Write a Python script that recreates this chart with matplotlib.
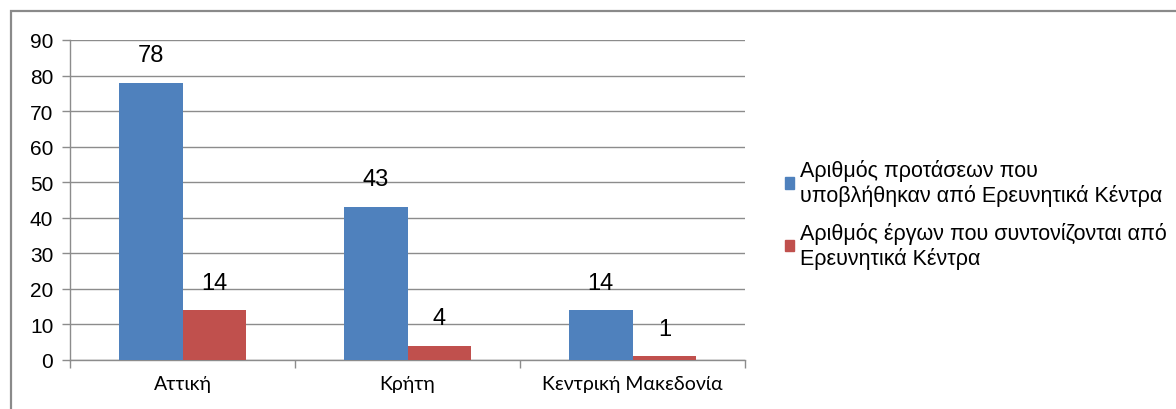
import matplotlib.pyplot as plt
import numpy as np
from matplotlib.patches import Rectangle, Patch

# data
regions = ['Αττική', 'Κρήτη', 'Κεντρική Μακεδονία']
proposals = [78, 43, 14]
projects = [14, 4, 1]
series_names = ['Αριθμός προτάσεων που\nυποβλήθηκαν από Ερευνητικά Κέντρα',
                'Αριθμός έργων που συντονίζονται από\nΕρευνητικά Κέντρα']
y_ticks = [0, 10, 20, 30, 40, 50, 60, 70, 80, 90]

blue = '#4F81BD'
red = '#C0504D'
grid_col = '#8C8C8C'

fig = plt.figure(figsize=(11.76, 4.10), dpi=100)
ax = fig.add_axes([70 / 1176, 1 - 361 / 410, 675 / 1176, 320 / 410])

# outer frame (only top and left edges visible in the picture)
fig.add_artist(Rectangle((11 / 1176, -0.1), 1.2, 1 - 12 / 410 + 0.1,
                         transform=fig.transFigure, fill=False,
                         edgecolor='#8A8A8A', linewidth=1.6))

w = 0.284
pos = np.arange(len(regions)) + 0.5
b1 = ax.bar(pos - w / 2, proposals, w, color=blue, zorder=3)
b2 = ax.bar(pos + w / 2, projects, w, color=red, zorder=3)

for bars, vals in ((b1, proposals), (b2, projects)):
    for rect, v in zip(bars, vals):
        ax.annotate(str(v), (rect.get_x() + rect.get_width() / 2, v),
                    xytext=(0, 12), textcoords='offset points',
                    ha='center', va='bottom', fontsize=17,
                    family='Liberation Sans')

ax.set_xlim(0, 3)
ax.set_ylim(0, 90)
ax.set_yticks(y_ticks)
ax.set_yticklabels([str(t) for t in y_ticks], family='Liberation Sans', fontsize=15)
ax.set_xticks(pos)
ax.set_xticklabels(regions, family='Lato', fontsize=14)
ax.set_xticks([0, 1, 2, 3], minor=True)
ax.tick_params(axis='x', which='major', length=0, pad=11)
ax.tick_params(axis='x', which='minor', length=6, color=grid_col, width=1)
ax.tick_params(axis='y', length=6, color=grid_col, width=1, pad=6)

ax.grid(axis='y', color=grid_col, linewidth=1, zorder=0)
ax.set_axisbelow(True)
for s in ('top', 'right'):
    ax.spines[s].set_visible(False)
for s in ('left', 'bottom'):
    ax.spines[s].set_color(grid_col)
    ax.spines[s].set_linewidth(1)

handles = [Patch(color=blue), Patch(color=red)]
fig.legend(handles, series_names, loc='center left',
           bbox_to_anchor=(776 / 1176, 1 - 215 / 410), frameon=False,
           prop={'family': 'Liberation Sans', 'size': 15.5},
           handlelength=0.45, handleheight=0.45, handletextpad=0.25,
           labelspacing=0.7, borderaxespad=0)

fig.savefig('out.png', dpi=100)
